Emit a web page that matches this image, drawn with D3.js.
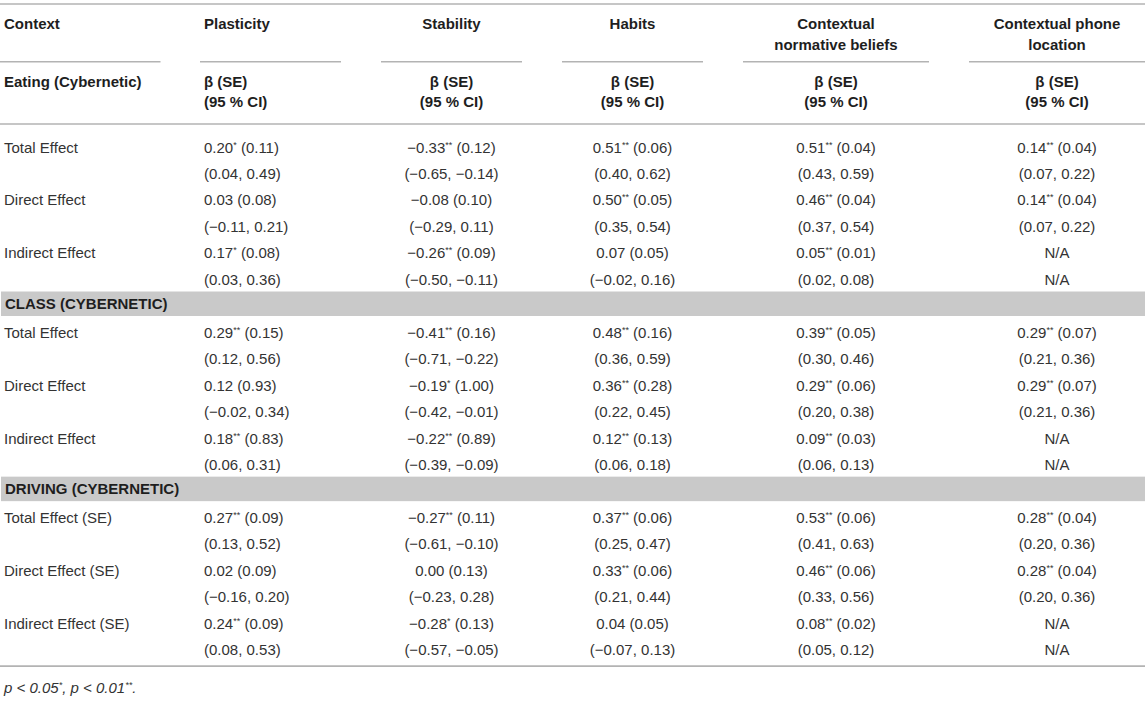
<!DOCTYPE html>
<html>
<head>
<meta charset="utf-8">
<script src="https://cdn.jsdelivr.net/npm/d3@7"></script>
<style>
  html, body { margin: 0; padding: 0; background: #fff; }
  svg { display: block; font-family: "Liberation Sans", Arial, Helvetica, sans-serif; }
</style>
</head>
<body>
<svg id="chart" width="1145" height="701"></svg>
<script>
// ---------------- DATA ----------------
const predictors = ["Plasticity", "Stability", "Habits", "Contextual normative beliefs", "Contextual phone location"];
const predictorHeaderLines = [["Plasticity"], ["Stability"], ["Habits"], ["Contextual", "normative beliefs"], ["Contextual phone", "location"]];
const sections = ["Eating (Cybernetic)", "CLASS (CYBERNETIC)", "DRIVING (CYBERNETIC)"];
const effectLabels = [
  ["Total Effect", "Direct Effect", "Indirect Effect"],
  ["Total Effect", "Direct Effect", "Indirect Effect"],
  ["Total Effect (SE)", "Direct Effect (SE)", "Indirect Effect (SE)"]
];
const statHeader = ["β (SE)", "(95 % CI)"];

// rows: total, direct, indirect; columns: predictors
const eatingBeta = [[0.20, -0.33, 0.51, 0.51, 0.14], [0.03, -0.08, 0.50, 0.46, 0.14], [0.17, -0.26, 0.07, 0.05, null]];
const eatingSig  = [[1, 2, 2, 2, 2], [0, 0, 2, 2, 2], [1, 2, 0, 2, 0]];
const eatingSE   = [[0.11, 0.12, 0.06, 0.04, 0.04], [0.08, 0.10, 0.05, 0.04, 0.04], [0.08, 0.09, 0.05, 0.01, null]];
const eatingCI   = [
  [[0.04, 0.49], [-0.65, -0.14], [0.40, 0.62], [0.43, 0.59], [0.07, 0.22]],
  [[-0.11, 0.21], [-0.29, 0.11], [0.35, 0.54], [0.37, 0.54], [0.07, 0.22]],
  [[0.03, 0.36], [-0.50, -0.11], [-0.02, 0.16], [0.02, 0.08], null]
];

const classBeta = [[0.29, -0.41, 0.48, 0.39, 0.29], [0.12, -0.19, 0.36, 0.29, 0.29], [0.18, -0.22, 0.12, 0.09, null]];
const classSig  = [[2, 2, 2, 2, 2], [0, 1, 2, 2, 2], [2, 2, 2, 2, 0]];
const classSE   = [[0.15, 0.16, 0.16, 0.05, 0.07], [0.93, 1.00, 0.28, 0.06, 0.07], [0.83, 0.89, 0.13, 0.03, null]];
const classCI   = [
  [[0.12, 0.56], [-0.71, -0.22], [0.36, 0.59], [0.30, 0.46], [0.21, 0.36]],
  [[-0.02, 0.34], [-0.42, -0.01], [0.22, 0.45], [0.20, 0.38], [0.21, 0.36]],
  [[0.06, 0.31], [-0.39, -0.09], [0.06, 0.18], [0.06, 0.13], null]
];

const drivingBeta = [[0.27, -0.27, 0.37, 0.53, 0.28], [0.02, 0.00, 0.33, 0.46, 0.28], [0.24, -0.28, 0.04, 0.08, null]];
const drivingSig  = [[2, 2, 2, 2, 2], [0, 0, 2, 2, 2], [2, 1, 0, 2, 0]];
const drivingSE   = [[0.09, 0.11, 0.06, 0.06, 0.04], [0.09, 0.13, 0.06, 0.06, 0.04], [0.09, 0.13, 0.05, 0.02, null]];
const drivingCI   = [
  [[0.13, 0.52], [-0.61, -0.10], [0.25, 0.47], [0.41, 0.63], [0.20, 0.36]],
  [[-0.16, 0.20], [-0.23, 0.28], [0.21, 0.44], [0.33, 0.56], [0.20, 0.36]],
  [[0.08, 0.53], [-0.57, -0.05], [-0.07, 0.13], [0.05, 0.12], null]
];

const footnoteParts = [["p < 0.05", false], ["*", true], [", p < 0.01", false], ["**", true], [".", false]];
const naText = "N/A";

// ---------------- LAYOUT ----------------
const W = 1145, H = 701;
const colExtents = [[0, 160.5], [200, 341], [381, 522], [562, 703], [743, 929], [969, 1145]];
const fontSize = 15;
const supSize = 9;
const supShift = 5;
const textColor = "#333";
const headColor = "#1e1e1e";
const ruleColor = "#b3b3b3";
const bandColor = "#c9c9c9";

const svg = d3.select("#chart");
svg.append("rect").attr("width", W).attr("height", H).attr("fill", "#fff");

const fmt = v => (v < 0 ? "\u2212" : "") + Math.abs(v).toFixed(2);

// row scale for the 20 body slots
const y = d3.scaleLinear().domain([0, 19]).range([147.3, 147.3 + 26.45 * 19]);

const colX = i => {
  const [a, b] = colExtents[i];
  if (i <= 1) return a + 4;
  return (a + b) / 2;
};
const colAnchor = i => (i <= 1 ? "start" : "middle");

// ---- rules ----
function hline(x1, x2, yy) {
  svg.append("line").attr("x1", x1).attr("x2", x2).attr("y1", yy).attr("y2", yy)
    .attr("stroke", ruleColor).attr("stroke-width", 1.6);
}
hline(0, W, 4);
colExtents.forEach(([a, b]) => hline(a, b, 61.7));
hline(0, W, 124);
hline(0, W, y(19) + 16.3);

// ---- header ----
const headerG = svg.append("g").attr("font-size", fontSize).attr("font-weight", "bold").attr("fill", headColor);
headerG.append("text").attr("x", colX(0)).attr("y", 24).attr("dy", "0.35em").text("Context");
predictorHeaderLines.forEach((lines, p) => {
  lines.forEach((ln, k) => {
    headerG.append("text").attr("x", colX(p + 1)).attr("y", 24 + k * 20.5).attr("dy", "0.35em")
      .attr("text-anchor", colAnchor(p + 1)).text(ln);
  });
});
headerG.append("text").attr("x", colX(0)).attr("y", 82).attr("dy", "0.35em").text(sections[0]);
predictors.forEach((p, i) => {
  statHeader.forEach((s, k) => {
    headerG.append("text").attr("x", colX(i + 1)).attr("y", 82 + k * 20).attr("dy", "0.35em")
      .attr("text-anchor", colAnchor(i + 1)).text(s);
  });
});

// ---- body ----
const sectionData = [
  [eatingBeta, eatingSig, eatingSE, eatingCI],
  [classBeta, classSig, classSE, classCI],
  [drivingBeta, drivingSig, drivingSE, drivingCI]
];
const body = svg.append("g").attr("font-size", fontSize).attr("fill", textColor);
const base = v => v + fontSize * 0.35;

let slot = 0;
sectionData.forEach(([beta, sig, se, ci], s) => {
  if (s > 0) {
    const cy = y(slot);
    body.append("rect").attr("x", 1).attr("y", cy - 14.5).attr("width", W - 1).attr("height", 24.5)
      .attr("fill", bandColor);
    body.append("text").attr("x", colX(0) + 1).attr("y", base(cy - 2.3))
      .attr("font-weight", "bold").attr("fill", headColor).text(sections[s]);
    slot++;
  }
  effectLabels[s].forEach((lab, r) => {
    const y1 = base(y(slot)), y2 = base(y(slot + 1));
    body.append("text").attr("x", colX(0)).attr("y", y1).text(lab);
    predictors.forEach((p, c) => {
      const t1 = body.append("text").attr("x", colX(c + 1)).attr("y", y1)
        .attr("text-anchor", colAnchor(c + 1));
      if (beta[r][c] === null) {
        t1.text(naText);
      } else {
        t1.append("tspan").text(fmt(beta[r][c]));
        if (sig[r][c] > 0) {
          t1.append("tspan").attr("font-size", supSize).attr("dy", -supShift).text("*".repeat(sig[r][c]));
          t1.append("tspan").attr("dy", supShift).text(" (" + fmt(se[r][c]) + ")");
        } else {
          t1.append("tspan").text(" (" + fmt(se[r][c]) + ")");
        }
      }
      const t2 = body.append("text").attr("x", colX(c + 1)).attr("y", y2)
        .attr("text-anchor", colAnchor(c + 1));
      if (ci[r][c] === null) t2.text(naText);
      else t2.text("(" + fmt(ci[r][c][0]) + ", " + fmt(ci[r][c][1]) + ")");
    });
    slot += 2;
  });
});

// ---- footnote ----
const fy = base(688);
const fn = svg.append("text").attr("x", colX(0)).attr("y", fy)
  .attr("font-size", fontSize).attr("font-style", "italic").attr("fill", textColor);
let raised = false;
footnoteParts.forEach(([t, sup]) => {
  const ts = fn.append("tspan").text(t);
  if (sup && !raised) { ts.attr("font-size", supSize).attr("dy", -supShift); raised = true; }
  else if (!sup && raised) { ts.attr("dy", supShift); raised = false; }
});
</script>
</body>
</html>
